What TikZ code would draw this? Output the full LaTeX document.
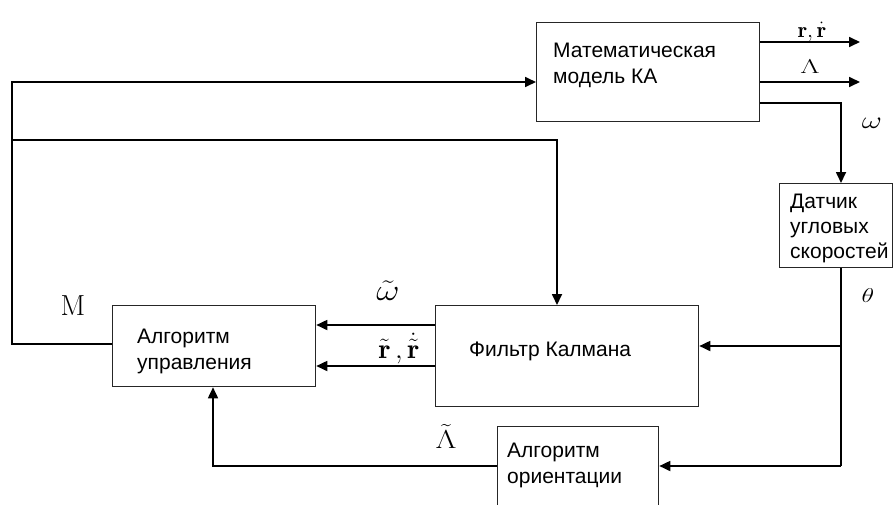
\RequirePackage{fix-cm}
\documentclass[tikz,border=0pt]{standalone}
\usepackage{graphicx}
\usepackage{fontspec}
\newfontfamily\arialf{Liberation Sans}
\usetikzlibrary{arrows.meta}
\begin{document}
\begin{tikzpicture}[x=1pt,y=-1pt,
  box/.style={draw=black!85, line width=1.3pt, rectangle, inner sep=0pt, anchor=north west},
  txt/.style={font=\arialf\fontsize{21}{25}\selectfont, inner sep=0pt, anchor=base west},
  lbl/.style={inner sep=0pt, anchor=base},
  conn/.style={line width=1.7pt, draw=black},
  arr/.style={conn, -{Triangle[length=11pt,width=10pt]}}]
\useasboundingbox (0,0) rectangle (893,504);
\clip (0,0) rectangle (893,504);
% boxes
\node[box, minimum width=223pt, minimum height=99pt] (mm) at (536,22) {};
\node[box, minimum width=113pt, minimum height=84pt] (dat) at (779,183) {};
\node[box, minimum width=203pt, minimum height=81pt] (au) at (112,305) {};
\node[box, minimum width=263pt, minimum height=101pt] (kf) at (435,305) {};
\node[box, minimum width=161pt, minimum height=100pt] (ori) at (497,426) {};
% texts
\node[txt] (t1) at (553,57) {Математическая};
\node[txt] (t2) at (553,83) {модель КА};
\node[txt] (t3) at (790,208) {Датчик};
\node[txt] (t4) at (790,233) {угловых};
\node[txt] (t5) at (790,258) {скоростей};
\node[txt] (t6) at (137,343) {Алгоритм};
\node[txt] (t7) at (137,369) {управления};
\node[txt] (t8) at (469,356) {Фильтр Калмана};
\node[txt] (t9) at (507,457) {Алгоритм};
\node[txt] (t10) at (507,483) {ориентации};
% coordinates
\coordinate (o1) at (860,42);
\coordinate (o2) at (860,82);
\coordinate (c1) at (841,103);
\coordinate (lt) at (12,82);
\coordinate (lm) at (12,140);
\coordinate (lb) at (12,344);
\coordinate (km) at (557,140);
\coordinate (bj) at (841,346);
\coordinate (bb) at (841,466);
\coordinate (ob) at (213,466);
\coordinate (r1) at (0,325);
\coordinate (r2) at (0,366);
% connectors
\draw[arr] (mm.east |- o1) -- (o1);
\draw[arr] (mm.east |- o2) -- (o2);
\draw[arr] (mm.east |- c1) -- (c1) -- (c1 |- dat.north);
\draw[conn] (c1 |- dat.south) -- (bb);
\draw[arr] (bb) -- (ori.east |- bb);
\draw[arr] (bj) -- (kf.east |- bj);
\draw[arr] (kf.west |- r1) -- (au.east |- r1);
\draw[arr] (kf.west |- r2) -- (au.east |- r2);
\draw[arr] (ori.west |- bb) -- (ob) -- (ob |- au.south);
\draw[arr] (au.west |- lb) -- (lb) -- (lt) -- (mm.west |- lt);
\draw[arr] (lm) -- (km) -- (km |- kf.north);
% labels
\node[lbl, font=\fontsize{22}{26}\selectfont] (lr) at (812,37) {$\mathbf{r},\dot{\mathbf{r}}$};
\node[lbl, font=\fontsize{20}{24}\selectfont] (lL) at (810,73) {\scalebox{1.5}[1]{$\Lambda$}};
\node[lbl, font=\fontsize{24}{28}\selectfont] (lw) at (872,128) {\scalebox{1.3}[1]{$\omega$}};
\node[lbl, font=\fontsize{20}{24}\selectfont] (lth) at (868,302) {\scalebox{1.3}[1]{$\theta$}};
\node[lbl, font=\fontsize{29}{34}\selectfont] (lM) at (73,315) {$\mathrm{M}$};
\node[lbl, font=\fontsize{30}{34}\selectfont] (lwt) at (388,300) {\scalebox{1.2}[1]{$\tilde{\omega}$}};
\node[lbl, font=\fontsize{28}{32}\selectfont] (lrt) at (399,358) {$\tilde{\mathbf{r}}\,,\dot{\tilde{\mathbf{r}}}$};
\node[lbl, font=\fontsize{26}{30}\selectfont] (lLt) at (446,448) {\scalebox{1.25}[1]{$\tilde{\Lambda}$}};
\end{tikzpicture}
\end{document}
